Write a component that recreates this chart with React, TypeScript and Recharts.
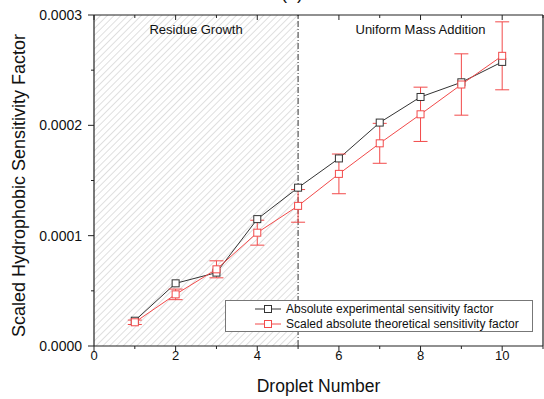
import {
  ComposedChart,
  Line,
  XAxis,
  YAxis,
  ErrorBar,
  ReferenceArea,
  ReferenceLine,
  Legend,
  Customized,
} from 'recharts';

// droplet sensitivity factors, experimental vs. scaled theoretical
const droplets = [1, 2, 3, 4, 5, 6, 7, 8, 9, 10];
const experimental = [0.0000229, 0.0000568, 0.0000665, 0.000115, 0.0001435, 0.00017, 0.0002025, 0.0002257, 0.000239, 0.0002575];
const theoretical = [0.0000215, 0.0000468, 0.0000695, 0.0001027, 0.000127, 0.000156, 0.0001837, 0.00021, 0.000237, 0.000263];
const theoreticalErr = [0.000002, 0.0000048, 0.0000077, 0.0000113, 0.0000148, 0.000018, 0.0000181, 0.0000246, 0.0000278, 0.0000308];

const xTicks = [0, 1, 2, 3, 4, 5, 6, 7, 8, 9, 10, 11];
const yTicks = [0, 0.00005, 0.0001, 0.00015, 0.0002, 0.00025, 0.0003];
const regionSplit = 5;

const data = droplets.map((x, i) => ({
  x,
  exp: experimental[i],
  theo: theoretical[i],
  err: theoreticalErr[i],
}));

const FONT = '"Liberation Sans", Arial, sans-serif';
const RED = '#f24a4a';
const DARK = '#333';

const squareDot = (color: string) => (p: any) => (
  <rect
    key={p.index}
    x={p.cx - 3.5}
    y={p.cy - 3.5}
    width={7}
    height={7}
    fill="#fff"
    stroke={color}
    strokeWidth={1}
  />
);

// bottom axis: long ticks + labels on even values, short ticks on odd ones
const BottomTick = (p: any) => {
  const v = p.payload.value;
  const major = v % 2 === 0;
  return (
    <g>
      <line x1={p.x} x2={p.x} y1={p.y} y2={p.y + (major ? 5 : 3)} stroke="#222" />
      {major && v <= 10 && (
        <text x={p.x} y={p.y + 14} textAnchor="middle" fontSize={13} fontFamily={FONT} fill="#111">
          {v}
        </text>
      )}
    </g>
  );
};

// top axis ticks point inward
const TopTick = (p: any) => {
  const major = p.payload.value % 2 === 0;
  return <line x1={p.x} x2={p.x} y1={p.y} y2={p.y + (major ? 5 : 3)} stroke="#222" />;
};

const LeftTick = (p: any) => {
  const v = p.payload.value;
  const major = Math.round(v / 0.00005) % 2 === 0;
  return (
    <g>
      <line x1={p.x - (major ? 6 : 3)} x2={p.x} y1={p.y} y2={p.y} stroke="#222" />
      {major && (
        <text x={p.x - 12} y={p.y + 5} textAnchor="end" fontSize={14} fontFamily={FONT} fill="#111">
          {v.toFixed(4)}
        </text>
      )}
    </g>
  );
};

const LegendBox = ({ payload }: any) => (
  <div
    style={{
      width: 306,
      height: 30,
      border: '1px solid #777',
      background: '#fff',
      fontFamily: FONT,
      fontSize: 12,
      color: '#111',
      boxSizing: 'content-box',
    }}
  >
    {(payload || []).map((e: any) => (
      <div key={e.value} style={{ display: 'flex', alignItems: 'center', height: 15, paddingLeft: 29 }}>
        <svg width={28} height={10} style={{ marginRight: 3 }}>
          <line x1={0} x2={26} y1={5} y2={5} stroke={e.color} />
          <rect x={9.5} y={1.5} width={7} height={7} fill="#fff" stroke={e.color} />
        </svg>
        <span>{e.value}</span>
      </div>
    ))}
  </div>
);

const regionLabel = (text: string) => ({
  value: text,
  position: 'insideTop' as const,
  offset: 10,
  style: { fontSize: 13, fontFamily: FONT, fill: '#111' },
});

export default function App() {
  return (
    <div style={{ position: 'absolute', left: 0, top: 0, width: 544, height: 399, background: '#fff' }}>
      <ComposedChart width={544} height={399} data={data} margin={{ top: 14, right: 0, bottom: 0, left: 0 }}>
        <defs>
          <pattern id="hatch" width={4.8} height={4.8} patternUnits="userSpaceOnUse" patternTransform="rotate(45)">
            <line x1={0} y1={0} x2={0} y2={4.8} stroke="#c4c4c4" strokeWidth={1.1} />
          </pattern>
        </defs>
        <XAxis
          dataKey="x"
          type="number"
          domain={[0, 11]}
          ticks={xTicks}
          interval={0}
          height={53}
          tickSize={0}
          tickMargin={0}
          tickLine={false}
          tick={<BottomTick />}
          axisLine={{ stroke: '#222', strokeWidth: 1.2 }}
          label={{
            value: 'Droplet Number',
            position: 'insideBottom',
            offset: 7,
            style: { fontSize: 17.5, fontFamily: FONT, fill: '#111' },
          }}
        />
        <XAxis
          xAxisId="top"
          orientation="top"
          dataKey="x"
          type="number"
          domain={[0, 11]}
          ticks={xTicks}
          interval={0}
          height={1}
          tickSize={0}
          tickMargin={0}
          tickLine={false}
          tick={<TopTick />}
          axisLine={{ stroke: '#222', strokeWidth: 1.2 }}
        />
        <YAxis
          type="number"
          domain={[0, 0.0003]}
          ticks={yTicks}
          interval={0}
          width={94}
          tickSize={0}
          tickMargin={0}
          tickLine={false}
          tick={<LeftTick />}
          axisLine={{ stroke: '#222', strokeWidth: 1.2 }}
          label={{
            value: 'Scaled Hydrophobic Sensitivity Factor',
            angle: -90,
            position: 'insideLeft',
            offset: 19,
            dy: 5,
            style: { fontSize: 18, fontFamily: FONT, fill: '#111', textAnchor: 'middle' },
          }}
        />
        <YAxis
          yAxisId="right"
          orientation="right"
          type="number"
          domain={[0, 0.0003]}
          width={1}
          tick={false}
          tickLine={false}
          axisLine={{ stroke: '#222', strokeWidth: 1.2 }}
        />
        <ReferenceArea x1={0} x2={regionSplit} y1={0} y2={0.0003} fill="url(#hatch)" fillOpacity={1} label={regionLabel('Residue Growth')} />
        <ReferenceArea x1={regionSplit} x2={11} y1={0} y2={0.0003} fill="none" label={regionLabel('Uniform Mass Addition')} />
        <ReferenceLine x={regionSplit} stroke="#333" strokeDasharray="6 2 1 2" />
        <Legend
          layout="horizontal"
          verticalAlign="middle"
          content={<LegendBox />}
          wrapperStyle={{ position: 'absolute', left: 225, top: 300, width: 308, height: 32 }}
        />
        <Line
          dataKey="exp"
          name="Absolute experimental sensitivity factor"
          stroke={DARK}
          strokeWidth={1}
          dot={squareDot(DARK)}
          activeDot={false}
          isAnimationActive={false}
        />
        <Line
          dataKey="theo"
          name="Scaled absolute theoretical sensitivity factor"
          stroke={RED}
          strokeWidth={1}
          dot={squareDot(RED)}
          activeDot={false}
          isAnimationActive={false}
        >
          <ErrorBar dataKey="err" direction="y" width={7} stroke={RED} strokeWidth={1} isAnimationActive={false} />
        </Line>
        <Customized
          component={() => (
            <text x={292} y={-1} textAnchor="middle" fontSize={18} fontFamily={FONT} fill="#111">
              (a)
            </text>
          )}
        />
      </ComposedChart>
    </div>
  );
}
